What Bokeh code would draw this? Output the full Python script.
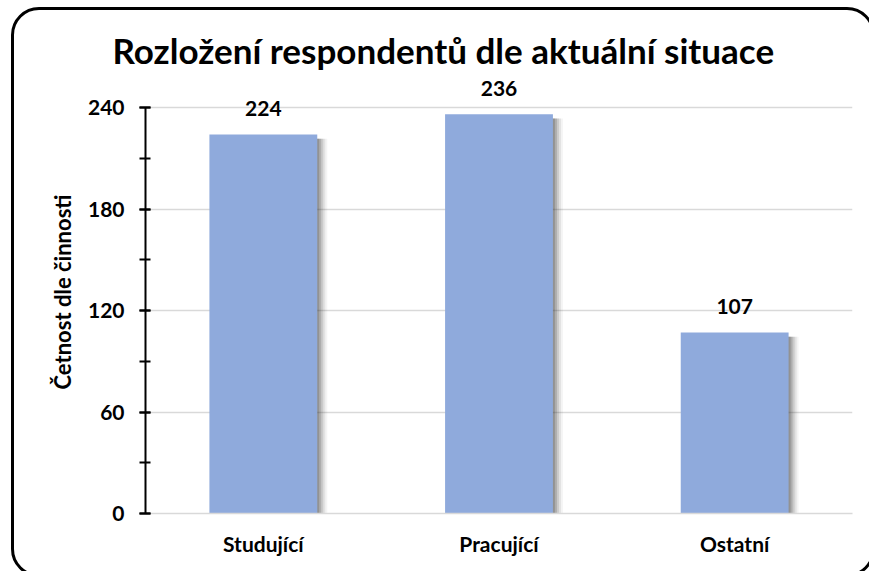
from bokeh.plotting import figure
from bokeh.models import (ColumnDataSource, LabelSet, SingleIntervalTicker,
                          Range1d, FactorRange, InlineStyleSheet)
from bokeh.core.properties import value
from bokeh.transform import dodge
from bokeh.embed import file_html
from bokeh.resources import INLINE

# ---- data ----
categories = ["Studující", "Pracující", "Ostatní"]
counts = [224, 236, 107]
y_max = 240
y_tick_step = 60
title_text = "Rozložení respondentů dle aktuální situace"
y_label = "Četnost dle činnosti"

FONT = "Lato"
BAR_COLOR = "#8FAADC"
GRID = "#d9d9d9"

src = ColumnDataSource(dict(cat=categories, count=counts,
                            label=[str(c) for c in counts]))

W, H = 869, 571
FRAME_LEFT, FRAME_RIGHT = 145, 852
FRAME_TOP, FRAME_BOTTOM = 70, 513          # canvas px
AXIS_TOP = 107                             # canvas px where y_max sits
px_per_unit = (FRAME_BOTTOM - AXIS_TOP) / y_max
y_end = y_max + (AXIS_TOP - FRAME_TOP) / px_per_unit

p = figure(x_range=FactorRange(*categories), y_range=Range1d(0, y_end),
           width=W, height=H, output_backend="svg", toolbar_location=None,
           min_border_left=FRAME_LEFT, min_border_right=W - FRAME_RIGHT,
           min_border_top=FRAME_TOP, min_border_bottom=H - FRAME_BOTTOM)

p.title.text = title_text
p.title.align = "left"
p.title.offset = -33
p.title.standoff = 0
p.title.text_font = FONT
p.title.text_font_size = "35px"
p.title.text_font_style = "bold"
p.title.text_color = "black"

# soft drop shadow (layers) to the right of each bar
BW = 0.4576
for dx, a in [(2, 0.22), (4, 0.18), (6, 0.13), (8, 0.09), (10, 0.05)]:
    p.vbar(x=dodge("cat", dx / 236.0, range=p.x_range), top=dodge("count", -2.5),
           bottom=0, width=BW, source=src, fill_color="#303030", fill_alpha=a,
           line_color=None)

p.vbar(x="cat", top="count", width=BW, source=src, fill_color=BAR_COLOR,
       line_color=None)

labels = LabelSet(x="cat", y="count", text="label", source=src,
                  text_align="center", text_baseline="middle", y_offset=26,
                  text_font=value(FONT), text_font_size=value("21px"),
                  text_font_style="bold", text_color="black")
p.add_layout(labels)

# grid
p.xgrid.grid_line_color = None
p.ygrid.grid_line_color = GRID
p.ygrid.grid_line_width = 1.5
p.outline_line_color = None
p.background_fill_color = "white"
p.border_fill_color = "white"

# y axis
yax = p.yaxis[0]
yax.ticker = SingleIntervalTicker(interval=y_tick_step, num_minor_ticks=2)
yax.bounds = (0, y_max)
yax.axis_line_color = "black"
yax.axis_line_width = 2
yax.major_tick_line_color = "black"
yax.major_tick_line_width = 2
yax.major_tick_in = 5
yax.major_tick_out = 6
yax.minor_tick_line_color = "black"
yax.minor_tick_line_width = 2
yax.minor_tick_in = 5
yax.minor_tick_out = 6
yax.major_label_text_font = FONT
yax.major_label_text_font_size = "21px"
yax.major_label_text_font_style = "bold"
yax.major_label_text_color = "black"
yax.major_label_standoff = 15
yax.axis_label = y_label
yax.axis_label_text_font = FONT
yax.axis_label_text_font_size = "22px"
yax.axis_label_text_font_style = "bold"
yax.axis_label_text_color = "black"
yax.axis_label_standoff = 9

# x axis
xax = p.xaxis[0]
xax.axis_line_color = GRID
xax.axis_line_width = 1.5
xax.major_tick_line_color = None
xax.minor_tick_line_color = None
xax.major_label_text_font = FONT
xax.major_label_text_font_size = "21px"
xax.major_label_text_font_style = "bold"
xax.major_label_text_color = "black"
xax.major_label_standoff = 11

# rounded chart border (extends past the right/bottom edge like the original)
border_css = InlineStyleSheet(css="""
:host { position: relative; overflow: hidden; }
:host::after {
  content: "";
  position: absolute;
  left: 11px; top: 7px;
  width: 864px; height: 570px;
  box-sizing: border-box;
  border: 3.5px solid black;
  border-radius: 28px;
  pointer-events: none;
}
""")
p.stylesheets = [border_css]

open("out.html", "w").write(file_html(p, INLINE))
